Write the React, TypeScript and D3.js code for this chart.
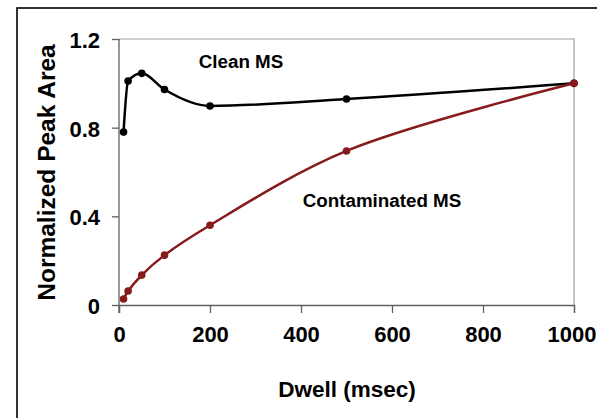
import React, { useRef, useEffect } from "react";
import * as d3 from "d3";

const dwell = [10, 20, 50, 100, 200, 500, 1000];
const cleanMS = [0.78, 1.01, 1.045, 0.972, 0.898, 0.929, 1.0];
const contaminatedMS = [0.027, 0.063, 0.135, 0.225, 0.36, 0.695, 1.0];
const xTicks = [0, 200, 400, 600, 800, 1000];
const yTicks = [0, 0.4, 0.8, 1.2];

const App = () => {
  const svgRef = useRef<SVGSVGElement>(null);

  useEffect(() => {
    const W = 597;
    const H = 418;
    const margin = { top: 39, right: 23, bottom: 113, left: 119 };
    const width = W - margin.left - margin.right;
    const height = H - margin.top - margin.bottom;

    const root = d3.select(svgRef.current).attr("width", W).attr("height", H);
    root.selectAll("*").remove();

    // outer frame (runs off the right and bottom edges)
    root
      .append("rect")
      .attr("x", 17)
      .attr("y", 8)
      .attr("width", 640)
      .attr("height", 460)
      .attr("fill", "none")
      .attr("stroke", "#000")
      .attr("stroke-width", 1.6);

    const svg = root.append("g").attr("transform", `translate(${margin.left}, ${margin.top})`);

    const x = d3.scaleLinear().domain([0, 1000]).range([0, width]);
    const y = d3.scaleLinear().domain([0, 1.2]).range([height, 0]);

    // top and right border of plot area
    svg
      .append("path")
      .attr("d", `M0,0H${width}V${height}`)
      .attr("fill", "none")
      .attr("stroke", "#a0a0a0")
      .attr("stroke-width", 1.2);

    const font = "'Liberation Sans', Arial, sans-serif";

    const xAxis = svg
      .append("g")
      .attr("transform", `translate(0, ${height})`)
      .call(d3.axisBottom(x).tickValues(xTicks).tickSize(8).tickPadding(13).tickFormat(d3.format("d")));
    xAxis.select(".domain").attr("stroke", "#606060").attr("stroke-width", 1.3);
    xAxis.selectAll("line").attr("stroke", "#606060").attr("stroke-width", 1.3);
    xAxis
      .selectAll("text")
      .attr("fill", "#000")
      .attr("dx", (d) => ((d as number) === 1000 ? -2.5 : 0))
      .style("font-family", font)
      .style("font-size", "22px")
      .style("font-weight", "bold");

    const yAxis = svg
      .append("g")
      .call(
        d3
          .axisLeft(y)
          .tickValues(yTicks)
          .tickSize(7)
          .tickPadding(12)
          .tickFormat((d) => (d === 0 ? "0" : d3.format(".1f")(d as number)))
      );
    yAxis.select(".domain").attr("stroke", "#606060").attr("stroke-width", 1.3).attr("d", `M0,0V${height + 8}`);
    yAxis.selectAll("line").attr("stroke", "#606060").attr("stroke-width", 1.3);
    yAxis
      .selectAll("text")
      .attr("fill", "#000")
      .attr("dy", "0.38em")
      .style("font-family", font)
      .style("font-size", "22px")
      .style("font-weight", "bold");

    const series = [
      { values: cleanMS, color: "#000000", curve: d3.curveMonotoneX },
      { values: contaminatedMS, color: "#861a1c", curve: d3.curveCatmullRom.alpha(0.5) },
    ];

    series.forEach((s) => {
      const pts: [number, number][] = dwell.map((d, i) => [d, s.values[i]]);
      const line = d3
        .line<[number, number]>()
        .x((d) => x(d[0]))
        .y((d) => y(d[1]))
        .curve(s.curve);
      svg
        .append("path")
        .datum(pts)
        .attr("d", line)
        .attr("fill", "none")
        .attr("stroke", s.color)
        .attr("stroke-width", 2.5);
      svg
        .selectAll(null)
        .data(pts)
        .enter()
        .append("circle")
        .attr("cx", (d) => x(d[0]))
        .attr("cy", (d) => y(d[1]))
        .attr("r", 3.8)
        .attr("fill", s.color);
    });

    const label = (t: string, cx: number, cy: number, size: number) =>
      root
        .append("text")
        .attr("x", cx)
        .attr("y", cy)
        .attr("text-anchor", "middle")
        .style("font-family", font)
        .style("font-size", `${size}px`)
        .style("font-weight", "bold")
        .text(t);

    label("Clean MS", 241, 68, 18.8);
    label("Contaminated MS", 382, 207, 18.8);
    label("Dwell (msec)", 347, 397, 22.5);

    root
      .append("text")
      .attr("transform", "translate(55, 172.5) rotate(-90)")
      .attr("text-anchor", "middle")
      .style("font-family", font)
      .style("font-size", "24.5px")
      .style("font-weight", "bold")
      .text("Normalized Peak Area");
  }, []);

  return (
    <div>
      <svg ref={svgRef} style={{ position: "absolute", left: 0, top: 0, display: "block" }}></svg>
    </div>
  );
};

export default App;
